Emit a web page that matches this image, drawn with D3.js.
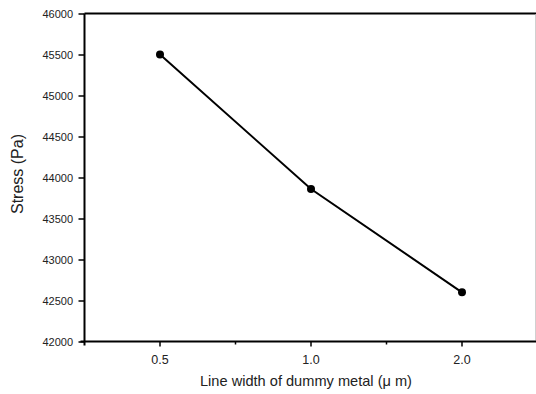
<!DOCTYPE html>
<html><head><meta charset="utf-8">
<script src="https://cdn.jsdelivr.net/npm/d3@7"></script>
<style>body{margin:0;background:#fff}svg{display:block}</style>
</head><body>
<script>
const categories = ["0.5", "1.0", "2.0"];
const stressValues = [45500, 43860, 42600];
const yTicks = [42000, 42500, 43000, 43500, 44000, 44500, 45000, 45500, 46000];
const xTitle = "Line width of dummy metal (\u03bc m)";
const yTitle = "Stress (Pa)";

(function () {
const W = 536, H = 394;
const svg = d3.select("body").append("svg").attr("width", W).attr("height", H);
const pLeft = 84.5, pRight = 537.5, pTop = 13.5, pBottom = 341.5;
const x = d3.scaleBand().domain(categories).range([pLeft, pRight]).padding(0);
const y = d3.scaleLinear().domain([42000, 46000]).range([pBottom, pTop]);
const font = "Liberation Sans, Arial, sans-serif";

// frame top/right
svg.append("line").attr("x1", pLeft).attr("x2", W).attr("y1", pTop).attr("y2", pTop)
  .attr("stroke", "#000").attr("stroke-width", 2);
svg.append("line").attr("x1", 535.5).attr("x2", 535.5).attr("y1", pTop + 1).attr("y2", pBottom - 1)
  .attr("stroke", "#d0d0d0").attr("stroke-width", 1);

// y axis
const yAxis = d3.axisLeft(y).tickValues(yTicks).tickSize(6).tickPadding(5.5).tickFormat(d3.format("d"));
const gy = svg.append("g").attr("transform", `translate(${pLeft},0)`).call(yAxis);
gy.select(".domain").attr("stroke-width", 2).attr("d", `M0,${pTop}V${pBottom + 4}`);
gy.selectAll(".tick line").attr("stroke-width", 1.5);
gy.selectAll("text").attr("font-family", font).attr("font-size", 11).attr("fill", "#222");

// x axis
const xAxis = d3.axisBottom(x).tickSize(5).tickPadding(9);
const gx = svg.append("g").attr("transform", `translate(0,${pBottom})`).call(xAxis);
gx.select(".domain").attr("stroke-width", 2).attr("d", `M${pLeft - 4},0H${W}`);
gx.selectAll(".tick line").attr("stroke-width", 1.5);
gx.selectAll("text").attr("font-family", font).attr("font-size", 12.5).attr("fill", "#222");
// minor ticks at category boundaries
const bounds = categories.slice(1).map(c => x(c));
gx.selectAll(".minor").data(bounds).enter().append("line")
  .attr("x1", d => d).attr("x2", d => d).attr("y1", 0).attr("y2", 3)
  .attr("stroke", "#000").attr("stroke-width", 1.5);

// titles
svg.append("text").attr("x", 306).attr("y", 386).attr("text-anchor", "middle")
  .attr("font-family", font).attr("font-size", 14.6).attr("fill", "#222").text(xTitle);
svg.append("text").attr("transform", `translate(23,174) rotate(-90)`).attr("text-anchor", "middle")
  .attr("font-family", font).attr("font-size", 16).attr("fill", "#222").text(yTitle);

// line & markers
const cx = d => x(d) + x.bandwidth() / 2;
const line = d3.line().x((d, i) => cx(categories[i])).y(d => y(d));
svg.append("path").datum(stressValues).attr("d", line).attr("fill", "none")
  .attr("stroke", "#000").attr("stroke-width", 2);
svg.selectAll(".pt").data(stressValues).enter().append("circle")
  .attr("cx", (d, i) => cx(categories[i])).attr("cy", d => y(d)).attr("r", 4).attr("fill", "#000");
})();
</script>
</body></html>
